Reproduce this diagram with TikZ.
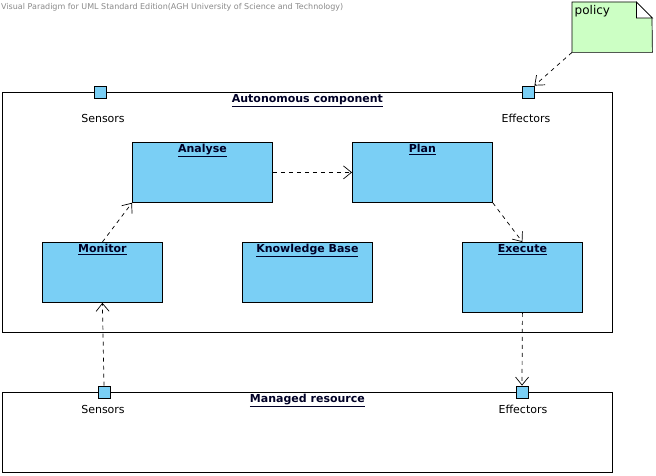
\documentclass[tikz,border=0pt]{standalone}
\usepackage{fontspec}
\setmainfont{DejaVu Sans}
\usetikzlibrary{arrows.meta}
\definecolor{compblue}{HTML}{7ACFF5}
\definecolor{notegreen}{HTML}{CCFFC4}
\definecolor{hdrgray}{HTML}{8A8A8A}
\tikzset{
  frame/.style={draw=black, line width=0.8pt, fill=white, anchor=north west, inner sep=0pt},
  comp/.style={draw=black, line width=0.8pt, fill=compblue, anchor=north west, inner sep=0pt},
  ttl/.style={font=\fontsize{11}{13}\selectfont\bfseries, inner sep=1pt, anchor=north, text=black!85!blue},
  port/.style={draw=black, line width=0.8pt, fill=compblue, minimum size=12pt, inner sep=0pt},
  plabel/.style={font=\fontsize{11}{13}\selectfont, inner sep=0pt},
  dep/.style={line width=0.7pt, dash pattern=on 4pt off 4pt, -{Straight Barb[length=8pt,width=13pt,line width=0.7pt]}}
}
\begin{document}
\begin{tikzpicture}[x=1pt,y=-1pt]
\useasboundingbox[fill=white] (0,0) rectangle (656,476);

\node[anchor=west, font=\fontsize{8}{9}\selectfont, text=hdrgray, inner sep=0pt] (hdr) at (1,7) {Visual Paradigm for UML Standard Edition(AGH University of Science and Technology)};

% Autonomous component
\node[frame, minimum width=610pt, minimum height=240pt,
  label={[ttl, anchor=north, yshift=-1pt]north:\underline{Autonomous component}}] (auto) at (2,92) {};

% Managed resource
\node[frame, minimum width=610pt, minimum height=80pt,
  label={[ttl, anchor=north, yshift=-1pt]north:\underline{Managed resource}}] (res) at (2,392) {};

% Components
\node[comp, minimum width=140pt, minimum height=60pt,
  label={[ttl, anchor=north, yshift=-1pt]north:\underline{Analyse}}] (analyse) at (132,142) {};
\node[comp, minimum width=140pt, minimum height=60pt,
  label={[ttl, anchor=north, yshift=-1pt]north:\underline{Plan}}] (plan) at (352,142) {};
\node[comp, minimum width=120pt, minimum height=60pt,
  label={[ttl, anchor=north, yshift=-1pt]north:\underline{Monitor}}] (monitor) at (42,242) {};
\node[comp, minimum width=130pt, minimum height=60pt,
  label={[ttl, anchor=north, yshift=-1pt]north:\underline{Knowledge Base}}] (kb) at (242,242) {};
\node[comp, minimum width=120pt, minimum height=70pt,
  label={[ttl, anchor=north, yshift=-1pt]north:\underline{Execute}}] (execute) at (462,242) {};

% Ports
\node[port] (sensA) at (100,92) {};
\node[port] (effA) at (528,92) {};
\node[port] (sensR) at (104,392) {};
\node[port] (effR) at (522,392) {};
\node[plabel] (sensAl) at (103,118) {Sensors};
\node[plabel] (effAl) at (526,118) {Effectors};
\node[plabel] (sensRl) at (103,409) {Sensors};
\node[plabel] (effRl) at (523,409) {Effectors};

% Note
\node[anchor=north west, minimum width=80pt, minimum height=50pt, inner sep=0pt] (note) at (572,2) {};
\fill[notegreen] (note.north west) -- ++(64,0) -- ++(16,16) -- (note.south east) -- (note.south west) -- cycle;
\draw[line width=0.7pt] (note.north west) -- ++(64,0) -- ++(16,16) -- (note.south east) -- (note.south west) -- cycle;
\draw[line width=0.7pt, fill=white] ([xshift=-16pt]note.north east) -- ([xshift=-16pt,yshift=-16pt]note.north east) -- ([yshift=-16pt]note.north east) -- cycle;
\node[anchor=north west, font=\fontsize{12}{14}\selectfont, inner sep=0pt] (notetext) at (574.5,5) {policy};

% Dependencies
\draw[dep] (note.south west) -- (effA.north east);
\draw[dep] (monitor.north) -- (analyse.south west);
\draw[dep] (analyse.east) -- (plan.west);
\draw[dep] (plan.south east) -- (execute.north);
\draw[dep] (sensR.north) -- (monitor.south);
\draw[dep] (execute.south) -- (effR.north);
\end{tikzpicture}
\end{document}
